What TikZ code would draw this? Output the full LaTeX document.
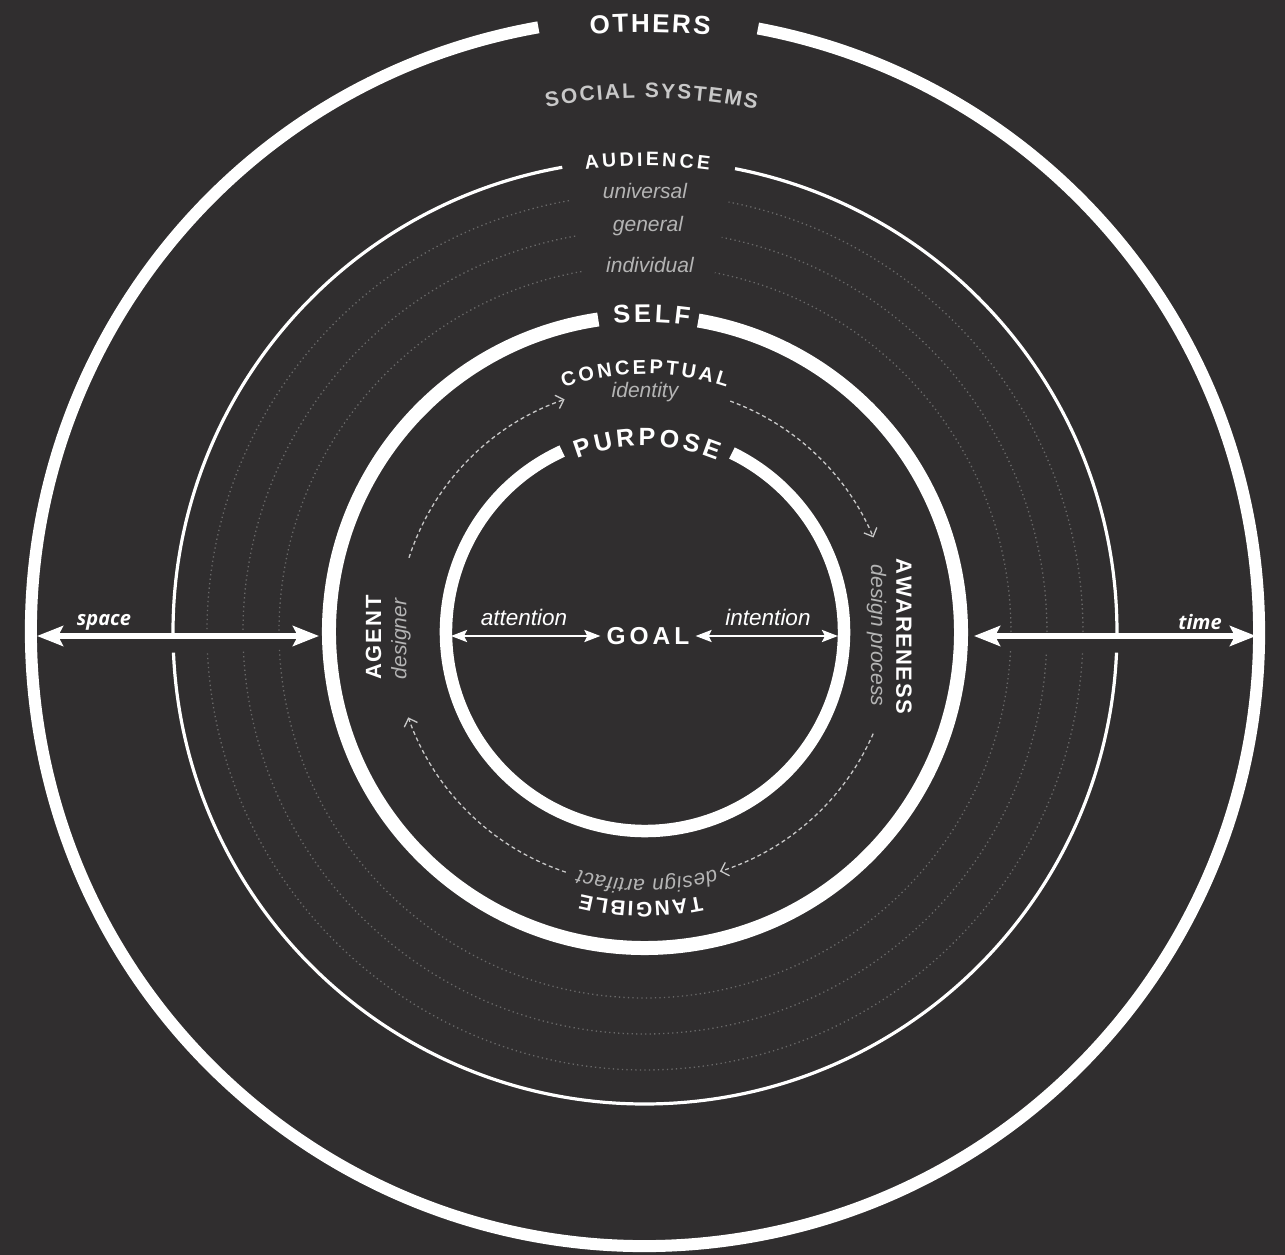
\documentclass[tikz,border=0pt]{standalone}
\usepackage{fontspec}
\setmainfont{Liberation Sans}
\newfontfamily\osans{Open Sans}
\usetikzlibrary{arrows.meta}
\definecolor{bg}{RGB}{48,46,47}
\definecolor{socgray}{RGB}{200,200,200}
\definecolor{ltgray}{RGB}{180,180,180}
\definecolor{dotgray}{RGB}{105,105,105}
\definecolor{dashgray}{RGB}{200,200,200}
% #1 baseline radius, #2 centre angle, #3 font, #4 font size, #5 letter spacing, #6 letter/width list
\newcommand\ctext[6]{%
  \gdef\cttot{0}%
  \foreach \ch/\w in {#6}{\pgfmathparse{\cttot+\w/1000*#4+#5}\xdef\cttot{\pgfmathresult}}%
  \pgfmathparse{-(\cttot-#5)/2}\xdef\ctcur{\pgfmathresult}%
  \foreach \ch/\w in {#6}{%
    \pgfmathsetmacro\ctang{#2-(\ctcur+\w/2000*#4)/#1*57.29578}%
    \node[anchor=base,inner sep=0pt,rotate=\ctang-90] at (\ctang:#1) {#3\ch};
    \pgfmathparse{\ctcur+\w/1000*#4+#5}\xdef\ctcur{\pgfmathresult}%
  }%
}
\begin{document}
\begin{tikzpicture}[x=1pt,y=1pt,
  ring/.style={draw=white,line cap=butt},
  dotring/.style={draw=dotgray,line width=1.3pt,dash pattern=on 1.3pt off 3.2pt},
  bigarrow/.style={draw=white,line width=6pt,{Stealth[length=26pt,width=20pt,inset=5pt]}-{Stealth[length=26pt,width=20pt,inset=5pt]}},
  smallarrow/.style={draw=white,line width=2.5pt,{Stealth[length=16pt,width=12pt,inset=3pt]}-{Stealth[length=16pt,width=12pt,inset=3pt]}},
  cycarrow/.style={draw=dashgray,line width=1.3pt,dash pattern=on 4pt off 3pt,-{Straight Barb[length=7pt,width=14pt]}},
  capslbl/.style={text=white,inner sep=0pt,font=\fontsize{22}{22}\selectfont\bfseries},
  sublbl/.style={text=ltgray,inner sep=0pt,font=\fontsize{21}{21}\selectfont\itshape},
  axislbl/.style={text=white,inner sep=0pt,font=\osans\fontsize{20}{20}\selectfont\bfseries\itshape},
  innerlbl/.style={text=white,inner sep=0pt,font=\fontsize{22.5}{22.5}\selectfont\itshape}]
\fill[bg] (-645,-623) rectangle (640,632);
\useasboundingbox (-645,-623) rectangle (640,632);

% dotted audience levels
\foreach \r in {438,402,366}{
  \draw[dotring] (100:\r) arc[start angle=100,end angle=180,radius=\r];
  \draw[dotring] (182.8:\r) arc[start angle=182.8,end angle=357.2,radius=\r];
  \draw[dotring] (360:\r) arc[start angle=360,end angle=439,radius=\r];
}

% rings
\draw[ring,line width=12pt] (100:614) arc[start angle=100,end angle=439.4,radius=614];
\draw[ring,line width=3.2pt] (100.1:472) arc[start angle=100.1,end angle=180.8,radius=472];
\draw[ring,line width=3.2pt] (182.5:472) arc[start angle=182.5,end angle=357.5,radius=472];
\draw[ring,line width=3.2pt] (359.2:472) arc[start angle=359.2,end angle=439,radius=472];
\draw[ring,line width=14pt] (98.5:316) arc[start angle=98.5,end angle=440.3,radius=316];
\draw[ring,line width=12.5pt] (114.6:199) arc[start angle=114.6,end angle=424.1,radius=199];

% curved labels
\ctext{600}{89.5}{\fontsize{26}{26}\selectfont\bfseries\color{white}}{26}{2.3}{O/778,T/611,H/722,E/667,R/722,S/667}
\ctext{534}{89.3}{\fontsize{21}{21}\selectfont\bfseries\color{socgray}}{21}{2.0}{S/667,O/778,C/722,I/278,A/722,L/611,~/278,S/667,Y/667,S/667,T/611,E/667,M/833,S/667}
\ctext{466}{89.7}{\fontsize{19.5}{19.5}\selectfont\bfseries\color{white}}{19.5}{3.2}{A/722,U/722,D/722,I/278,E/667,N/722,C/722,E/667}
\ctext{310}{88.8}{\fontsize{25.5}{25.5}\selectfont\bfseries\color{white}}{25.5}{3.4}{S/667,E/667,L/611,F/611}
\ctext{258}{90}{\fontsize{20}{20}\selectfont\bfseries\color{white}}{20}{3}{C/722,O/778,N/722,C/722,E/667,P/667,T/611,U/722,A/722,L/611}
\ctext{186}{89.4}{\fontsize{25}{25}\selectfont\bfseries\color{white}}{25}{3.5}{P/667,U/722,R/722,P/667,O/778,S/667,E/667}
\ctext{270}{269.1}{\fontsize{21}{21}\selectfont\bfseries\color{white}}{21}{2.0}{T/611,A/722,N/722,G/778,I/278,B/722,L/611,E/667}
\ctext{247.5}{270.5}{\fontsize{21}{21}\selectfont\itshape\color{ltgray}}{21}{0.6}{d/556,e/556,s/500,i/222,g/556,n/556,~/278,a/556,r/333,t/278,i/222,f/278,a/556,c/500,t/278}

% straight labels
\node[sublbl] (univ) at (0,441) {universal};
\node[sublbl] (gen) at (3,406) {general};
\node[sublbl] (indiv) at (5,367) {individual};
\node[sublbl] (ident) at (0,240) {identity};
\node[capslbl,rotate=90] (agent) at (-271.5,-5.5) {A\kern2pt G\kern2pt E\kern2pt N\kern2pt T};
\node[sublbl,rotate=90] (designer) at (-244,-7) {designer};
\node[capslbl,rotate=-90] (aware) at (259,-4.5) {A\kern1.5pt W\kern1.5pt A\kern1.5pt R\kern1.5pt E\kern1.5pt N\kern1.5pt E\kern1.5pt S\kern1.5pt S};
\node[sublbl,rotate=-90] (dproc) at (231.5,-3.5) {design process};
\node[text=white,font=\fontsize{24.5}{24.5}\selectfont\bfseries,inner xsep=6pt,inner ysep=0pt] (goal) at (3,-4) {G\kern4pt O\kern4pt A\kern4pt L};
\node[axislbl] (spacelbl) at (-541,10) {space};
\node[axislbl] (timelbl) at (555,10) {time};
\node[innerlbl] (attlbl) at (-121,15) {attention};
\node[innerlbl] (intlbl) at (123,15) {intention};

% arrows
\coordinate (spL) at (-608,-4);
\coordinate (spR) at (-326,-4);
\coordinate (tmL) at (329,-4);
\coordinate (tmR) at (611,-4);
\coordinate (atL) at (-194,-4);
\coordinate (inR) at (193,-4);
\draw[bigarrow] (spL) -- (spR);
\draw[bigarrow] (tmL) -- (tmR);
\draw[smallarrow] (atL) -- (atL -| goal.west);
\draw[smallarrow] (inR -| goal.east) -- (inR);

% cycle arrows
\coordinate (cyA) at ([shift={(0,-2)}]162.1:248);
\coordinate (cyB) at ([shift={(0,-2)}]69.9:248);
\coordinate (cyC) at ([shift={(0,-2)}]-23.6:249);
\coordinate (cyD) at ([shift={(0,-2)}]-108.4:251);
\draw[cycarrow] (cyA) arc[start angle=162.1,end angle=108.9,radius=248];
\draw[cycarrow] (cyB) arc[start angle=69.9,end angle=22.9,radius=248];
\draw[cycarrow] (cyC) arc[start angle=-23.6,end angle=-72.5,radius=249];
\draw[cycarrow] (cyD) arc[start angle=-108.4,end angle=-160.6,radius=251];
\end{tikzpicture}
\end{document}
